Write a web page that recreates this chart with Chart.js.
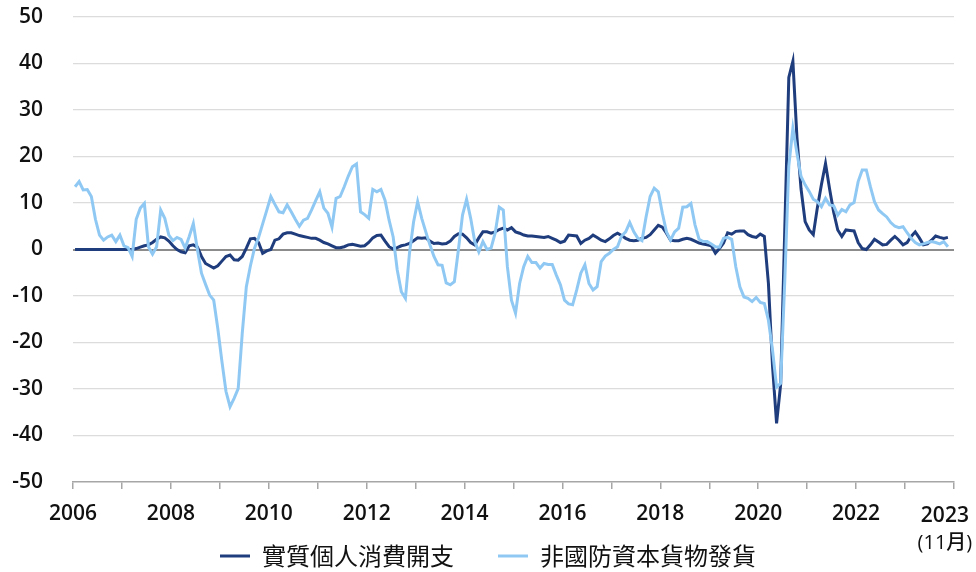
<!DOCTYPE html>
<html>
<head>
<meta charset="utf-8">
<script src="https://cdn.jsdelivr.net/npm/chart.js@4.4.1/dist/chart.umd.min.js"></script>
<style>
  html, body { margin: 0; padding: 0; background: #fff; }
</style>
</head>
<body>
<canvas id="chart" width="976" height="572"></canvas>
<script>
// monthly YoY %, Jan 2006 .. Nov 2023
const startYear = 2006;
const seriesNames = ['實質個人消費開支', '非國防資本貨物發貨'];
const pce = [
  0, 0, 0, 0, 0, 0, 0, 0, 0, 0, 0, 0,
  0, 0, 0, 0.2, 0.5, 0.8, 1.0, 1.5, 2.2, 2.7, 2.5, 1.8,
  0.8, 0.0, -0.5, -0.7, 0.8, 1.0, 0.5, -1.5, -3.0, -3.5, -4.0, -3.5,
  -2.5, -1.5, -1.2, -2.2, -2.3, -1.5, 0.3, 2.3, 2.4, 1.5, -0.8, -0.3,
  0.0, 2.0, 2.3, 3.3, 3.6, 3.6, 3.3, 3.0, 2.8, 2.6, 2.4, 2.4,
  2.0, 1.5, 1.2, 0.8, 0.4, 0.4, 0.6, 1.0, 1.1, 0.9, 0.7, 0.8,
  1.5, 2.5, 3.0, 3.1, 1.8, 0.6, 0.1, 0.4, 0.8, 1.0, 1.3, 1.9,
  2.5, 2.4, 2.5, 1.8, 1.3, 1.4, 1.2, 1.3, 1.8, 2.8, 3.4, 3.3,
  2.5, 1.5, 1.0, 2.5, 3.8, 3.8, 3.5, 3.8, 4.3, 4.6, 4.2, 4.7,
  3.8, 3.5, 3.1, 2.9, 2.9, 2.8, 2.7, 2.6, 2.8, 2.4, 2.0, 1.5,
  1.8, 3.1, 3.0, 2.9, 1.3, 2.0, 2.4, 3.1, 2.6, 2.0, 1.7, 2.3,
  3.0, 3.5, 3.0, 2.4, 2.0, 1.9, 2.0, 2.4, 2.6, 3.2, 4.2, 5.2,
  4.8, 3.5, 2.0, 1.9, 1.9, 2.2, 2.4, 2.2, 1.8, 1.4, 1.2, 1.0,
  0.8, -0.8, 0.2, 1.4, 3.6, 3.3, 3.9, 4.0, 4.0, 3.2, 2.8, 2.6,
  3.3, 2.8, -7.3, -25, -37.4, -29, 4, 37, 40.5, 24, 13, 6,
  4.2, 3.2, 9, 14, 18.5, 13, 8, 4.2, 2.8, 4.2, 4.1, 4.0,
  1.5, 0.2, 0.0, 1.0, 2.2, 1.6, 1.0, 1.1, 2.0, 2.8, 2.0, 1.0,
  1.5, 2.8, 3.8, 2.5, 1.0, 1.2, 2.0, 2.9, 2.6, 2.4, 2.6
];
const capGoods = [
  13.5, 14.6, 12.8, 12.9, 11.4, 6.5, 3.1, 2.0, 2.7, 3.1, 1.7, 3.1,
  0.8, 0.4, -1.5, 6.5, 8.9, 9.9, 0.6, -1.0, 0.6, 8.5, 6.7, 3.1,
  1.9, 2.6, 2.2, 0.3, 2.8, 5.6, 0.0, -5.1, -7.5, -9.8, -10.9, -17,
  -24, -30.5, -33.8, -32, -29.9, -18, -8, -3.5, 0.3, 2.6, 5.5, 8.4,
  11.4, 9.7, 8.1, 7.9, 9.6, 8.1, 6.5, 5.0, 6.3, 6.7, 8.5, 10.5,
  12.4, 8.9, 7.8, 4.8, 11.0, 11.4, 13.5, 15.8, 17.8, 18.4, 8.1, 7.5,
  6.7, 12.9, 12.4, 12.9, 10.6, 6.3, 2.7, -4.4, -9.1, -10.5, -0.8, 5.9,
  10.3, 6.7, 3.8, 1.0, -1.5, -3.3, -3.4, -7.2, -7.6, -6.9, 0.0, 7.4,
  10.8, 6.7, 1.7, -0.5, 1.7, 0.0, 0.3, 3.5, 9.1, 8.5, -3.7, -10.9,
  -13.7, -7.3, -3.7, -1.5, -2.8, -2.8, -4.0, -3.0, -3.2, -3.2, -5.5, -7.6,
  -10.9, -11.7, -11.9, -8.7, -5.1, -3.3, -7.3, -8.7, -8.0, -2.6, -1.4, -0.8,
  0.0, 0.6, 2.9, 3.8, 5.8, 3.8, 2.4, 1.9, 7.0, 11.4, 13.2, 12.4,
  7.8, 3.8, 2.0, 3.8, 4.6, 9.1, 9.2, 9.9, 5.3, 2.2, 1.7, 1.7,
  1.2, 0.6, 0.5, 2.4, 2.6, 2.2, -3.7, -8.0, -10.2, -10.5, -11.2, -10.3,
  -11.4, -11.6, -15.2, -21.6, -29.6, -28.8, -7, 18, 26.1, 20.7, 15.7, 13.9,
  12.5, 10.8, 10.3, 9.2, 11.0, 9.6, 9.4, 7.4, 8.6, 8.1, 9.6, 10.1,
  14.6, 17.1, 17.1, 13.5, 10.3, 8.5, 7.7, 7.0, 5.8, 5.0, 4.7, 4.9,
  3.6, 2.4, 1.5, 1.0, 1.2, 1.5, 1.7, 1.5, 1.2, 1.7, 0.6
];
const yMin = -50, yMax = 50, yStep = 10;
const monthsShown = 216;          // axis runs Jan 2006 .. Jan 2024
const endLabel = ['2023', '(11月)'];

const navy = '#1f3d7d';
const sky = '#8fc9f3';
const textFont = "'Open Sans', 'Noto Sans CJK TC', sans-serif";

const toPoints = arr => arr.map((v, i) => ({ x: i + 0.5, y: v }));

// the last axis label sits under the last data point, not under a tick
const endLabelPlugin = {
  id: 'endLabel',
  afterDraw(chart) {
    const ctx = chart.ctx;
    const x = chart.scales.x.getPixelForValue(pce.length - 0.5) - 3;
    ctx.save();
    ctx.fillStyle = '#111';
    ctx.textAlign = 'center';
    ctx.textBaseline = 'middle';
    ctx.font = "600 21px " + textFont;
    ctx.fillText(endLabel[0], x, 516);
    ctx.font = "500 20px " + textFont;
    ctx.fillText(endLabel[1], x, 543);
    ctx.restore();
  }
};

new Chart(document.getElementById('chart'), {
  type: 'line',
  data: {
    datasets: [{
      label: seriesNames[0],
      data: toPoints(pce),
      borderColor: navy,
      backgroundColor: navy,
      borderWidth: 3,
      pointRadius: 0,
      order: 2
    }, {
      label: seriesNames[1],
      data: toPoints(capGoods),
      borderColor: sky,
      backgroundColor: sky,
      borderWidth: 3,
      pointRadius: 0,
      order: 1
    }]
  },
  options: {
    responsive: false,
    animation: false,
    layout: { padding: { top: 17, right: 0, left: 0, bottom: 0 } },
    plugins: {
      tooltip: { enabled: false },
      legend: {
        position: 'bottom',
        maxHeight: 36,
        labels: {
          usePointStyle: true,
          pointStyle: 'line',
          pointStyleWidth: 30,
          padding: 8,
          color: '#111',
          font: { family: "'Noto Sans CJK TC', sans-serif", size: 24 },
          sort: (a, b) => a.datasetIndex - b.datasetIndex,
          generateLabels: chart => Chart.defaults.plugins.legend.labels.generateLabels(chart)
            .map(l => l.datasetIndex === 0 ? Object.assign(l, { text: l.text + '\u2003\u2002' }) : l)
        }
      }
    },
    scales: {
      x: {
        type: 'linear',
        min: 0,
        max: monthsShown,
        afterBuildTicks: s => {
          const t = [];
          for (let v = 0; v <= monthsShown; v += 12) t.push({ value: v });
          s.ticks = t;
        },
        afterFit: s => { s.height = 54; s.paddingRight = 22; },
        ticks: {
          autoSkip: false,
          maxRotation: 0,
          padding: 12,
          color: '#111',
          font: { family: textFont, size: 21, weight: '600' },
          callback: v => (v % 24 === 0 && v < monthsShown) ? String(startYear + v / 12) : ''
        },
        grid: {
          drawOnChartArea: false,
          tickLength: 7,
          color: '#a6a6a6',
          lineWidth: 1.5
        },
        border: { display: true, color: '#a6a6a6', width: 1.5 }
      },
      y: {
        min: yMin,
        max: yMax,
        afterFit: s => { s.width = 73; s.paddingTop = 0; s.paddingBottom = 0; },
        ticks: {
          stepSize: yStep,
          padding: 30,
          color: '#111',
          font: { family: textFont, size: 21, weight: '600' }
        },
        grid: {
          drawTicks: false,
          lineWidth: c => c.tick && c.tick.value === 0 ? 2 : 1.3,
          color: c => {
            if (!c.tick) return '#dcdcdc';
            if (c.tick.value === 0) return '#8c8c8c';
            if (c.tick.value === yMin) return 'rgba(0,0,0,0)';
            return '#dcdcdc';
          }
        },
        border: { display: false }
      }
    }
  },
  plugins: [endLabelPlugin]
});
</script>
</body>
</html>
